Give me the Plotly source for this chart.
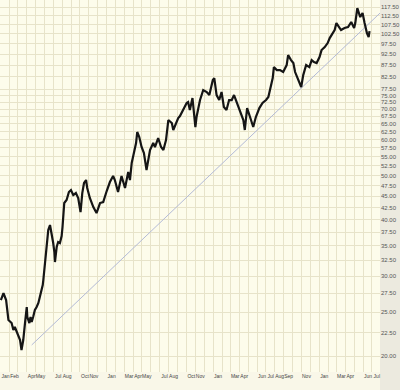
import plotly.graph_objects as go
import math

dates = [
 "2003-01-02","2003-01-11","2003-01-20","2003-01-28","2003-02-08","2003-02-14","2003-02-19","2003-02-25",
 "2003-03-03","2003-03-09","2003-03-14","2003-03-20","2003-03-26","2003-04-01","2003-04-03","2003-04-10",
 "2003-04-14","2003-04-18","2003-04-23","2003-04-29","2003-05-05","2003-05-11","2003-05-16","2003-05-22",
 "2003-05-26","2003-05-28","2003-06-01","2003-06-05","2003-06-09","2003-06-14","2003-06-20","2003-06-26",
 "2003-07-01","2003-07-05","2003-07-07","2003-07-13","2003-07-18","2003-07-24","2003-07-30","2003-08-02",
 "2003-08-04","2003-08-08","2003-08-16","2003-08-24","2003-08-31","2003-09-08","2003-09-17","2003-09-25",
 "2003-10-03","2003-10-09","2003-10-15","2003-10-22","2003-10-26","2003-11-04","2003-11-16","2003-11-27",
 "2003-12-09","2003-12-20","2004-01-01","2004-01-12","2004-01-23","2004-01-29","2004-02-09","2004-02-21",
 "2004-03-04","2004-03-15","2004-03-21","2004-03-27","2004-04-02","2004-04-11","2004-04-15","2004-04-22",
 "2004-04-30","2004-05-08","2004-05-17","2004-05-23","2004-05-29","2004-06-09","2004-06-15","2004-06-26",
 "2004-07-06","2004-07-14","2004-07-23","2004-07-31","2004-08-12","2004-08-17","2004-08-27","2004-09-03",
 "2004-09-09","2004-09-20","2004-10-02","2004-10-07","2004-10-13","2004-10-22","2004-11-01","2004-11-05",
 "2004-11-17","2004-11-28","2004-12-10","2004-12-19","2004-12-31","2005-01-05","2005-01-13","2005-01-22",
 "2005-01-30","2005-02-07","2005-02-16","2005-02-25","2005-03-06","2005-03-14","2005-03-25","2005-04-03",
 "2005-04-15","2005-04-20","2005-04-28","2005-05-08","2005-05-19","2005-05-28","2005-06-09","2005-06-20",
 "2005-07-02","2005-07-10","2005-07-18","2005-07-25","2005-07-29","2005-08-08","2005-08-19","2005-08-30",
 "2005-09-11","2005-09-16","2005-09-26","2005-10-04","2005-10-10","2005-10-21","2005-10-31","2005-11-07",
 "2005-11-17","2005-11-28","2005-12-06","2005-12-14","2005-12-23","2006-01-02","2006-01-09","2006-01-20",
 "2006-01-30","2006-02-06","2006-02-15","2006-02-23","2006-03-01","2006-03-09","2006-03-17","2006-03-29",
 "2006-04-10","2006-04-21","2006-05-01","2006-05-05","2006-05-12","2006-05-22","2006-05-30","2006-06-06",
 "2006-06-14","2006-06-20","2006-06-23"]

prices = [
 26.57,27.53,26.57,24.01,23.64,22.82,23.17,22.59,
 22.25,21.69,20.62,21.69,23.64,25.64,24.37,23.64,
 24.37,23.76,24.37,25.26,25.64,26.17,26.98,27.95,
 28.67,29.41,31.42,33.05,36.02,37.90,38.87,37.33,
 35.48,33.90,32.22,34.77,35.66,35.48,36.76,38.48,
 41.31,43.47,44.13,45.96,46.43,45.27,45.73,44.59,
 41.52,45.73,48.11,48.85,46.91,44.59,42.59,41.31,
 43.47,43.69,46.20,48.36,49.86,48.85,45.96,49.86,
 46.91,50.88,48.85,53.26,55.47,58.95,62.33,60.77,
 57.76,56.03,51.40,54.08,56.90,58.95,57.76,60.46,
 57.76,56.90,59.85,66.24,65.24,62.97,65.57,66.92,
 67.60,69.69,72.21,72.58,69.69,74.07,63.93,67.26,
 73.31,77.13,76.35,75.19,81.13,81.96,75.19,73.31,
 76.35,70.75,69.69,73.31,73.31,75.19,72.21,69.69,
 66.24,62.97,70.39,67.26,63.93,67.26,70.39,72.21,
 73.31,74.43,77.92,81.96,86.66,85.36,85.36,84.50,
 87.55,92.11,89.80,88.44,84.50,81.13,78.31,83.21,
 87.55,86.66,89.80,88.89,88.44,91.18,94.47,95.92,
 97.89,100.41,102.99,104.57,108.35,106.18,104.57,105.64,
 106.18,108.90,105.64,108.35,116.91,111.69,113.98,108.35,
 102.99,100.93,104.04]

trend_dates = ["2003-04-18", "2006-07-29"]
trend_prices = [21.15, 113.98]

tick_months = ["2003-01","2003-02","2003-04","2003-05","2003-07","2003-08","2003-10","2003-11",
               "2004-01","2004-03","2004-04","2004-05","2004-07","2004-08","2004-10","2004-11",
               "2005-01","2005-03","2005-04","2005-06","2005-07","2005-08","2005-09","2005-11",
               "2006-01","2006-03","2006-04","2006-06","2006-07"]
tick_text = ["Jan","Feb","Apr","May","Jul","Aug","Oct","Nov",
             "Jan","Mar","Apr","May","Jul","Aug","Oct","Nov",
             "Jan","Mar","Apr","Jun","Jul","Aug","Sep","Nov",
             "Jan","Mar","Apr","Jun","Jul"]

y_ticks = [20.0,22.5,25.0,27.5,30.0,32.5,35.0,37.5,40.0,42.5,45.0,47.5,50.0,52.5,55.0,57.5,
           60.0,62.5,65.0,67.5,70.0,72.5,75.0,77.5,82.5,87.5,92.5,97.5,102.5,107.5,112.5,117.5]

fig = go.Figure()
fig.add_trace(go.Scatter(x=trend_dates, y=trend_prices, mode="lines",
                         line=dict(color="#B3BAD6", width=1), hoverinfo="skip"))
fig.add_trace(go.Scatter(x=dates, y=prices, mode="lines",
                         line=dict(color="#151515", width=2.2)))

tickpos = [m + "-18" for m in tick_months]

fig.update_layout(
    width=400, height=390,
    margin=dict(l=0, r=20, t=0, b=18),
    plot_bgcolor="#FDFCEB",
    paper_bgcolor="#F9F7E8",
    showlegend=False,
    font=dict(family="Liberation Sans, Arial", size=6, color="#555555"),
    shapes=[dict(type="rect", xref="paper", yref="paper", x0=1, x1=1.06, y0=-0.06, y1=1,
                 fillcolor="#ECEADF", line=dict(width=0), layer="below")],
)
fig.update_xaxes(
    type="date", range=["2002-12-30", "2006-07-29"],
    tickmode="array", tickvals=tickpos, ticktext=tick_text, tickangle=0,
    showgrid=False, ticks="", zeroline=False, showline=False,
    minor=dict(dtick="M1", tick0="2003-01-01", showgrid=True, gridcolor="#E7E3C9", gridwidth=1, ticks=""),
    tickfont=dict(size=5, color="#444444"),
)
fig.update_yaxes(
    type="log", side="right",
    range=[math.log10(18.44), math.log10(121.8)],
    tickmode="array", tickvals=y_ticks, ticktext=["%.2f" % v for v in y_ticks],
    showgrid=True, gridcolor="#E7E3C9", gridwidth=1, ticks="", zeroline=False, showline=False,
    tickfont=dict(size=6, color="#555555"),
)
fig.write_html("out.html")
